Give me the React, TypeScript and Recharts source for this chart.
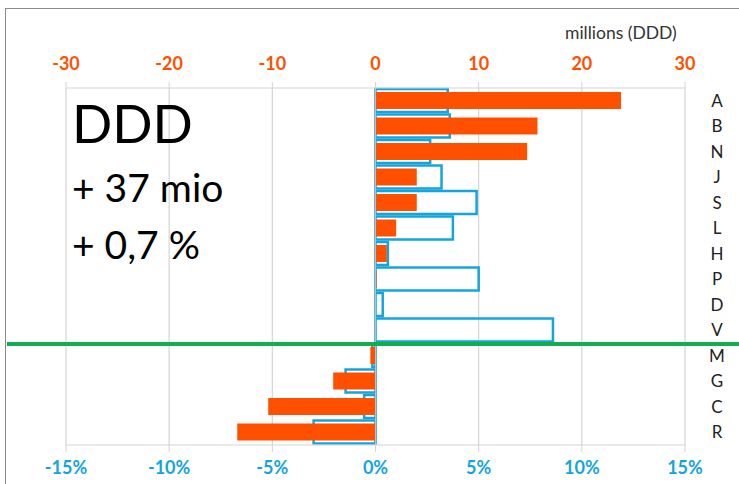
import React from 'react';
import { BarChart, Bar, XAxis, YAxis, CartesianGrid, ReferenceLine } from 'recharts';

// categories top to bottom
const regions = ['A', 'B', 'N', 'J', 'S', 'L', 'H', 'P', 'D', 'V', 'M', 'G', 'C', 'R'];
// change in millions of DDD (top axis)
const changeMio = [23.8, 15.7, 14.7, 4.0, 4.0, 2.0, 1.1, 0.1, 0, 0, -0.5, -4.1, -10.4, -13.4];
// change in percent (bottom axis)
const changePct = [3.5, 3.6, 2.65, 3.2, 4.9, 3.75, 0.6, 5.0, 0.35, 8.6, -0.15, -1.45, -0.55, -3.0];

const mioTicks = [-30, -20, -10, 0, 10, 20, 30];
const pctTicks = [-15, -10, -5, 0, 5, 10, 15];

const ORANGE = '#ff5000';
const BLUE = '#12a5de';
const GRID = '#d4d4d4';
const FONT = 'Lato, "Open Sans", sans-serif';

const data = regions.map((name, i) => ({ name, mio: changeMio[i], pct: changePct[i] }));

const TopTick = ({ x, payload }: any) => (
    <text x={x} y={70} textAnchor="middle" fill={ORANGE} fontSize={18} fontWeight={700} fontFamily={FONT}>
        {payload.value}
    </text>
);

const BottomTick = ({ x, payload }: any) => (
    <text x={x} y={474} textAnchor="middle" fill={BLUE} fontSize={18} fontWeight={700} fontFamily={FONT}>
        {payload.value}%
    </text>
);

const RegionTick = ({ x, y, payload }: any) => (
    <text x={x + 24} y={y + 6} textAnchor="middle" fill="#222" fontSize={17} fontFamily={FONT}>
        {payload.value}
    </text>
);

const App = () => {
    return (
        <div style={{ position: 'absolute', left: 0, top: 0, width: 739, height: 484, background: '#fff' }}>
            <div
                style={{
                    position: 'absolute',
                    left: 5,
                    top: 8,
                    right: 0,
                    bottom: 0,
                    borderTop: '1px solid #8a8a8a',
                    borderLeft: '1px solid #8a8a8a',
                }}
            />
            <BarChart
                width={739}
                height={484}
                data={data}
                layout="vertical"
                margin={{ top: 40, right: 0, left: 66, bottom: 0 }}
                style={{ position: 'absolute', left: 0, top: 0 }}
            >
                <CartesianGrid xAxisId="mio" yAxisId="cat" horizontal={false} stroke={GRID} strokeWidth={1.2} />
                <XAxis
                    xAxisId="mio"
                    type="number"
                    orientation="top"
                    domain={[-30, 30]}
                    ticks={mioTicks}
                    height={48}
                    tick={<TopTick />}
                    stroke={GRID}
                    tickLine={{ stroke: GRID }}
                    tickSize={6}
                    allowDataOverflow
                />
                <XAxis
                    xAxisId="pct"
                    type="number"
                    orientation="bottom"
                    domain={[-15, 15]}
                    ticks={pctTicks}
                    height={39}
                    tick={<BottomTick />}
                    stroke={GRID}
                    tickLine={{ stroke: GRID }}
                    tickSize={7}
                    allowDataOverflow
                />
                <YAxis
                    yAxisId="cat"
                    type="category"
                    dataKey="name"
                    orientation="right"
                    width={54}
                    axisLine={false}
                    tickLine={false}
                    tick={<RegionTick />}
                    interval={0}
                />
                <YAxis yAxisId="cat2" type="category" dataKey="name" hide />
                <ReferenceLine xAxisId="mio" yAxisId="cat" x={0} stroke="#bfbfbf" />
                <Bar
                    xAxisId="pct"
                    yAxisId="cat2"
                    dataKey="pct"
                    barSize={23}
                    fill="none"
                    stroke={BLUE}
                    strokeWidth={2.5}
                    isAnimationActive={false}
                />
                <Bar
                    xAxisId="mio"
                    yAxisId="cat"
                    dataKey="mio"
                    barSize={17}
                    fill={ORANGE}
                    isAnimationActive={false}
                />
                <ReferenceLine
                    xAxisId="mio"
                    yAxisId="cat"
                    y="V"
                    position="end"
                    shape={(p: any) => (
                        <line x1={7} x2={739} y1={p.y1 + 1} y2={p.y2 + 1} stroke="#12ad4e" strokeWidth={4} />
                    )}
                />
            </BarChart>
            <div style={{ position: 'absolute', left: 72, top: 96, fontFamily: FONT, color: '#000', fontSize: 53, lineHeight: 1 }}>
                DDD
            </div>
            <div style={{ position: 'absolute', left: 72, top: 168, fontFamily: FONT, color: '#000', fontSize: 39, lineHeight: 1 }}>
                + 37 mio
            </div>
            <div style={{ position: 'absolute', left: 72, top: 225, fontFamily: FONT, color: '#000', fontSize: 39, lineHeight: 1 }}>
                + 0,7 %
            </div>
            <div style={{ position: 'absolute', left: 565, top: 24, fontFamily: FONT, color: '#333', fontSize: 17.5, lineHeight: 1 }}>
                millions (DDD)
            </div>
        </div>
    );
};

export default App;
